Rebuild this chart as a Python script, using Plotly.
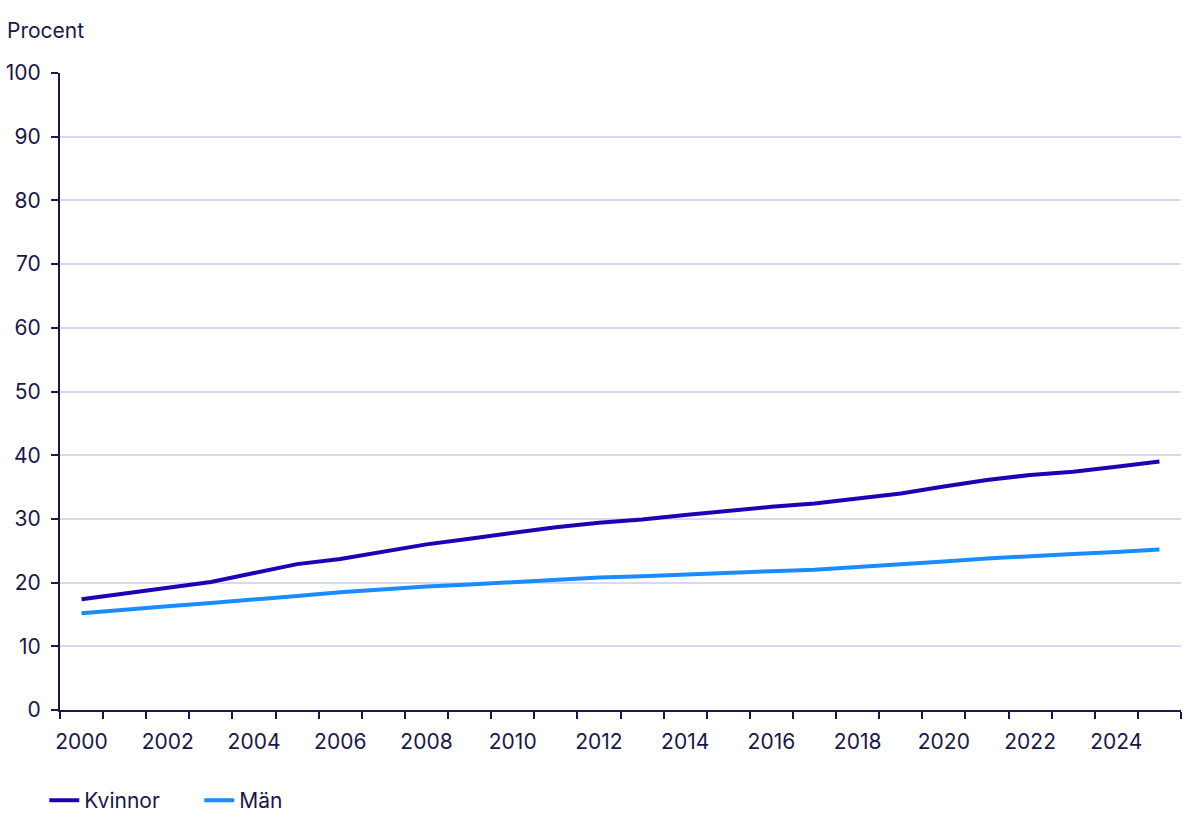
import plotly.graph_objects as go

years = list(range(2000, 2026))
kvinnor = [17.4, 18.3, 19.2, 20.1, 21.5, 22.9, 23.7, 24.9, 26.0, 26.9, 27.8, 28.7, 29.4,
           29.9, 30.6, 31.3, 31.9, 32.4, 33.2, 34.0, 35.1, 36.1, 36.9, 37.4, 38.2, 39.0]
man = [15.2, 15.8, 16.3, 16.8, 17.3, 17.9, 18.5, 19.0, 19.4, 19.7, 20.1, 20.4, 20.8,
       21.0, 21.3, 21.6, 21.8, 22.0, 22.4, 22.8, 23.3, 23.8, 24.2, 24.5, 24.8, 25.2]
x_ticks = list(range(2000, 2025, 2))
y_ticks = list(range(0, 101, 10))

TEXT = "#1b1747"
GRID = "#d8d8f0"
FONT = "Inter"
FS = 21

fig = go.Figure()
fig.add_trace(go.Scatter(x=years, y=kvinnor, name="Kvinnor", mode="lines",
                         line=dict(color="#2000b4", width=4)))
fig.add_trace(go.Scatter(x=years, y=man, name="Män", mode="lines",
                         line=dict(color="#1a8cff", width=4)))

fig.update_layout(
    width=1200, height=840,
    margin=dict(l=60, r=19, t=73, b=130, autoexpand=False),
    plot_bgcolor="white", paper_bgcolor="white",
    font=dict(family=FONT, size=FS, color=TEXT),
    showlegend=True,
    legend=dict(orientation="h", x=-0.014, xanchor="left", y=-0.110, yanchor="top",
                font=dict(family=FONT, size=FS, color=TEXT),
                entrywidth=110, entrywidthmode="pixels",
                traceorder="normal"),
    annotations=[dict(text="Procent", xref="paper", yref="paper", x=-0.049, y=1.066,
                      xanchor="left", yanchor="middle", showarrow=False,
                      font=dict(family=FONT, size=FS, color=TEXT))],
)
fig.update_xaxes(
    range=[1999.5, 2025.5], tickmode="array", tickvals=x_ticks,
    ticktext=[str(v) for v in x_ticks], ticks="", showgrid=False,
    showline=True, linecolor=TEXT, linewidth=2, zeroline=False, automargin=False,
    tickfont=dict(family=FONT, size=FS, color=TEXT),
    minor=dict(tick0=1999.5, dtick=1, ticks="outside", ticklen=7, tickwidth=2,
               tickcolor=TEXT, showgrid=False),
    ticklabelstandoff=12,
)
fig.update_yaxes(
    range=[0, 100], tickmode="array", tickvals=y_ticks, ticks="outside",
    ticklen=7, tickwidth=2, tickcolor=TEXT, showgrid=True, gridcolor=GRID,
    gridwidth=1.5, showline=True, linecolor=TEXT, linewidth=2, zeroline=False,
    automargin=False,
    tickfont=dict(family=FONT, size=FS, color=TEXT), ticklabelstandoff=6,
)

fig.write_html("out.html", config={"displayModeBar": False},
               post_script="document.body.style.margin='0';")
